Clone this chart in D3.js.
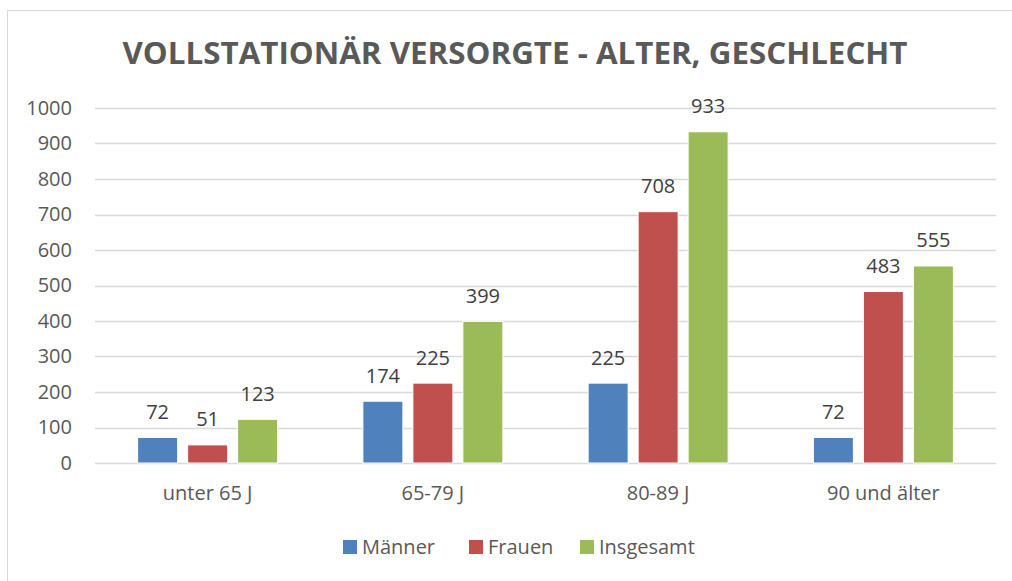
<!DOCTYPE html>
<html>
<head>
<meta charset="utf-8">
<script src="https://cdn.jsdelivr.net/npm/d3@7"></script>
<style>
  body { margin: 0; background: #fff; }
  svg text { font-family: "Open Sans", "Noto Sans", sans-serif; }
</style>
</head>
<body>
<div id="chart"></div>
<script>
// data
var categories = ["unter 65 J", "65-79 J", "80-89 J", "90 und älter"];
var seriesNames = ["Männer", "Frauen", "Insgesamt"];
var maenner = [72, 174, 225, 72];
var frauen = [51, 225, 708, 483];
var insgesamt = [123, 399, 933, 555];
var yTicks = [0, 100, 200, 300, 400, 500, 600, 700, 800, 900, 1000];
var colors = ["#4F81BD", "#C0504D", "#9BBB59"];

var svgWidth = 1012, svgHeight = 581;
var margin = {top: 108, right: 16, bottom: 118, left: 95};
var width = svgWidth - margin.left - margin.right;
var height = svgHeight - margin.top - margin.bottom;

var svg = d3.select("#chart").append("svg")
    .attr("width", svgWidth)
    .attr("height", svgHeight);

// chart area frame
svg.append("rect")
    .attr("x", 7.5).attr("y", 10.5)
    .attr("width", svgWidth + 10).attr("height", svgHeight + 10)
    .attr("fill", "none")
    .attr("stroke", "#d9d9d9");

svg.append("text")
    .attr("x", 515).attr("y", 64)
    .attr("text-anchor", "middle")
    .attr("font-size", 31)
    .attr("font-weight", "bold")
    .attr("fill", "#595959")
    .attr("textLength", 785)
    .attr("lengthAdjust", "spacingAndGlyphs")
    .text("VOLLSTATIONÄR VERSORGTE - ALTER, GESCHLECHT");

var chartGroup = svg.append("g")
    .attr("transform", `translate(${margin.left}, ${margin.top})`);

var xScale = d3.scaleBand()
    .domain(categories)
    .range([0, width]);

var xInner = d3.scaleBand()
    .domain(seriesNames)
    .range([0, 150])
    .paddingInner(0.2)
    .paddingOuter(0.1);

var yScale = d3.scaleLinear()
    .domain([0, 1000])
    .range([height, 0]);

// gridlines
chartGroup.selectAll(".grid")
    .data(yTicks)
    .enter().append("line")
    .attr("x1", 0).attr("x2", width)
    .attr("y1", d => Math.round(yScale(d)) + 0.5)
    .attr("y2", d => Math.round(yScale(d)) + 0.5)
    .attr("stroke", "#d9d9d9")
    .attr("stroke-width", 1.5);

// y axis labels
var yAxis = d3.axisLeft(yScale).tickValues(yTicks).tickFormat(d3.format("d"))
    .tickSize(0).tickPadding(23);
chartGroup.append("g")
    .call(yAxis)
    .call(g => g.select(".domain").remove())
    .selectAll("text")
    .attr("font-size", 20)
    .attr("fill", "#595959")
    .style("font-family", "'Open Sans', sans-serif");

// x axis labels
var xAxis = d3.axisBottom(xScale).tickSize(0).tickPadding(23);
chartGroup.append("g")
    .attr("transform", `translate(0, ${height})`)
    .call(xAxis)
    .call(g => g.select(".domain").remove())
    .selectAll("text")
    .attr("font-size", 20)
    .attr("fill", "#595959")
    .style("font-family", "'Open Sans', sans-serif");

var seriesValues = [maenner, frauen, insgesamt];
var rows = [];
categories.forEach(function(c, i) {
    seriesNames.forEach(function(s, j) {
        rows.push({cat: c, series: s, idx: j, value: seriesValues[j][i]});
    });
});

var groupOffset = (xScale.bandwidth() - 150) / 2;

chartGroup.selectAll(".bar")
    .data(rows)
    .enter().append("rect")
    .attr("x", d => xScale(d.cat) + groupOffset + xInner(d.series))
    .attr("y", d => yScale(d.value))
    .attr("width", xInner.bandwidth())
    .attr("height", d => height - yScale(d.value))
    .attr("fill", d => colors[d.idx])
    .attr("stroke", "#fff")
    .attr("stroke-width", 1);

chartGroup.selectAll(".label")
    .data(rows)
    .enter().append("text")
    .attr("x", d => xScale(d.cat) + groupOffset + xInner(d.series) + xInner.bandwidth() / 2)
    .attr("y", d => yScale(d.value) - 18.5)
    .attr("text-anchor", "middle")
    .attr("font-size", 20)
    .attr("fill", "#404040")
    .text(d => d.value);

// legend
var legendX = [343, 469, 580];
var legend = svg.selectAll(".legend")
    .data(seriesNames)
    .enter().append("g")
    .attr("transform", (d, i) => `translate(${legendX[i]}, 540)`);

legend.append("rect")
    .attr("width", 14).attr("height", 14)
    .attr("fill", (d, i) => colors[i]);

legend.append("text")
    .attr("x", 19).attr("y", 14)
    .attr("font-size", 20)
    .attr("fill", "#595959")
    .text(d => d);
</script>
</body>
</html>
